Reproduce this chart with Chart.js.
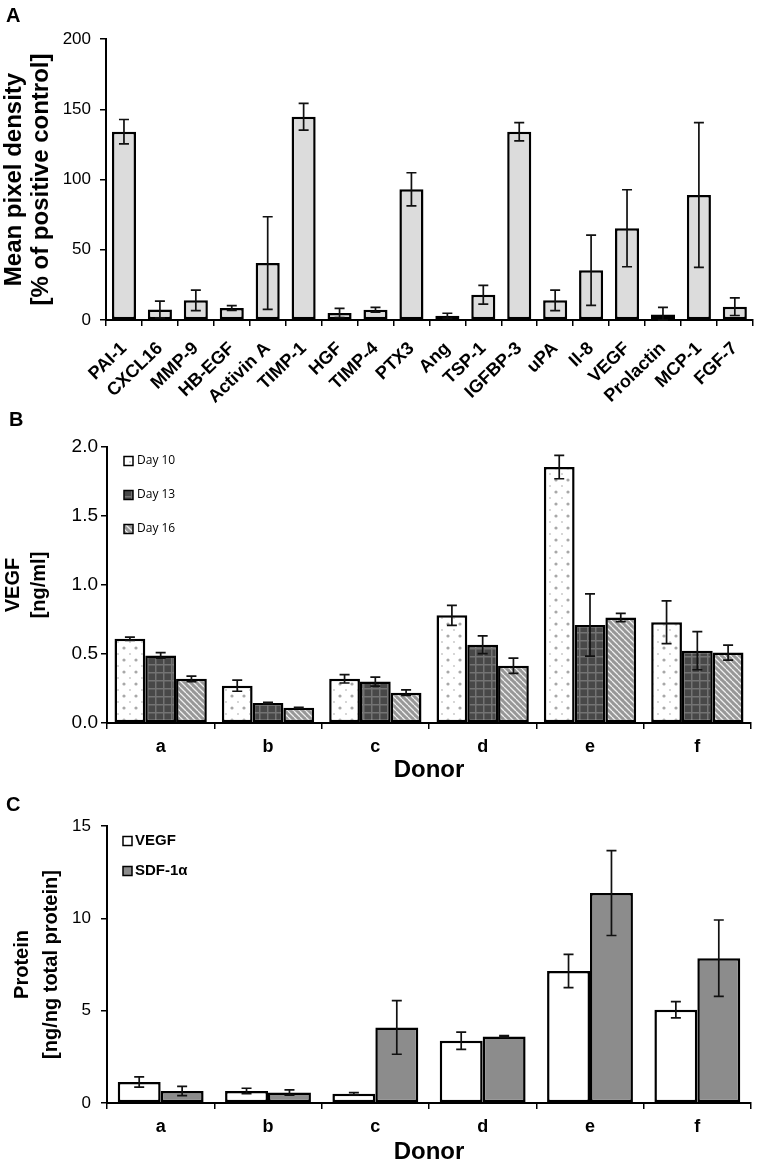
<!DOCTYPE html>
<html lang="en">
<head>
  <meta charset="UTF-8" />
  <title>Angiogenic factors in conditioned medium</title>
  <script src="https://cdn.jsdelivr.net/npm/chart.js"></script>
  <style>
    * {
      margin: 0;
      padding: 0;
      box-sizing: border-box;
    }

    body {
      background: #fff;
      width: 762px;
      height: 1171px;
      position: relative;
      overflow: hidden;
      font-family: 'Liberation Sans', Arial, sans-serif;
    }

    canvas {
      position: absolute;
      left: 0;
    }

    .panel-letter {
      position: absolute;
      font-weight: bold;
      font-size: 20px;
      line-height: 20px;
      color: #000;
      z-index: 2;
    }
  </style>
</head>
<body>

  <div class="panel-letter" style="left:6px; top:5px;">A</div>
  <div class="panel-letter" style="left:9px; top:409px;">B</div>
  <div class="panel-letter" style="left:6px; top:794px;">C</div>

  <canvas id="chartA" width="762" height="405" style="top:0;"></canvas>
  <canvas id="chartB" width="762" height="380" style="top:405px;"></canvas>
  <canvas id="chartC" width="762" height="386" style="top:785px;"></canvas>

  <script>
    // ---- data ----
    const factors = ['PAI-1', 'CXCL16', 'MMP-9', 'HB-EGF', 'Activin A', 'TIMP-1', 'HGF', 'TIMP-4', 'PTX3',
                     'Ang', 'TSP-1', 'IGFBP-3', 'uPA', 'Il-8', 'VEGF', 'Prolactin', 'MCP-1', 'FGF-7'];
    const densityMean = [134, 7.5, 14, 8.5, 40.5, 144.7, 5, 7.3, 93, 3, 18, 134, 14, 35.4, 65.3, 4, 89, 9.5];
    const densityErr = [8.7, 6, 7.3, 1.7, 33, 9.5, 3.3, 1.7, 11.8, 1.8, 6.7, 6.5, 7.3, 25, 27.4, 5, 51.5, 6.3];
    const ticksA = [0, 50, 100, 150, 200];

    const donors = ['a', 'b', 'c', 'd', 'e', 'f'];
    const day10 = [0.61, 0.27, 0.32, 0.78, 1.855, 0.73];
    const day10Err = [0.012, 0.04, 0.03, 0.072, 0.085, 0.155];
    const day13 = [0.49, 0.145, 0.30, 0.567, 0.71, 0.524];
    const day13Err = [0.02, 0.005, 0.033, 0.065, 0.225, 0.138];
    const day16 = [0.32, 0.11, 0.22, 0.415, 0.765, 0.51];
    const day16Err = [0.02, 0.003, 0.02, 0.055, 0.03, 0.055];
    const ticksB = [0, 0.5, 1.0, 1.5, 2.0];

    const vegfProtein = [1.14, 0.65, 0.5, 3.37, 7.15, 5.05];
    const vegfProteinErr = [0.28, 0.15, 0.06, 0.47, 0.9, 0.44];
    const sdfProtein = [0.65, 0.57, 4.09, 3.6, 11.37, 7.84];
    const sdfProteinErr = [0.25, 0.14, 1.45, 0.05, 2.3, 2.07];
    const ticksC = [0, 5, 10, 15];

    Chart.defaults.font.family = "'Liberation Sans', Arial, sans-serif";
    Chart.defaults.color = '#000';
    Chart.defaults.animation = false;

    // ---- fill patterns for panel B ----
    function makePattern(size, drawFn) {
      const c = document.createElement('canvas');
      c.width = size;
      c.height = size;
      drawFn(c.getContext('2d'), size);
      return c.getContext('2d').createPattern(c, 'repeat');
    }

    const dotsPattern = makePattern(12, (g, s) => {
      g.fillStyle = '#fff';
      g.fillRect(0, 0, s, s);
      g.fillStyle = '#a8a8a8';
      g.beginPath(); g.arc(4, 3, 1.6, 0, Math.PI * 2); g.fill();
      g.fillStyle = '#c4c4c4';
      g.beginPath(); g.arc(10, 9, 0.9, 0, Math.PI * 2); g.fill();
    });

    const plaidPattern = makePattern(8, (g, s) => {
      g.fillStyle = '#484848';
      g.fillRect(0, 0, s, s);
      g.fillStyle = '#737373';
      g.fillRect(3, 0, 1.5, s);
      g.fillRect(0, 3, s, 1.5);
    });

    const stripePattern = makePattern(6, (g, s) => {
      g.fillStyle = '#979797';
      g.fillRect(0, 0, s, s);
      g.strokeStyle = 'rgba(255,255,255,0.85)';
      g.lineWidth = 1.3;
      g.beginPath();
      [-s, 0, s].forEach(k => { g.moveTo(k, 0); g.lineTo(k + s, s); });
      g.stroke();
    });

    // ---- plugins ----
    const errorBars = {
      id: 'errorBars',
      afterDatasetsDraw(chart, args, opts) {
        const ctx = chart.ctx;
        const y = chart.scales.y;
        chart.data.datasets.forEach((ds, i) => {
          if (!ds.errors) return;
          chart.getDatasetMeta(i).data.forEach((bar, j) => {
            const v = ds.data[j], e = ds.errors[j];
            const top = y.getPixelForValue(v + e);
            const bot = y.getPixelForValue(Math.max(v - e, y.min));
            const cap = opts.cap || 5;
            ctx.save();
            ctx.strokeStyle = '#111';
            ctx.lineWidth = 1.7;
            ctx.beginPath();
            ctx.moveTo(bar.x, top); ctx.lineTo(bar.x, bot);
            ctx.moveTo(bar.x - cap, top); ctx.lineTo(bar.x + cap, top);
            ctx.moveTo(bar.x - cap, bot); ctx.lineTo(bar.x + cap, bot);
            ctx.stroke();
            ctx.restore();
          });
        });
      }
    };

    // small square legend drawn inside the plot
    const boxLegend = {
      id: 'boxLegend',
      afterDraw(chart, args, opts) {
        if (!opts.rows) return;
        const ctx = chart.ctx;
        chart.data.datasets.forEach((ds, i) => {
          const cy = opts.rows[i];
          const b = opts.box;
          ctx.save();
          ctx.fillStyle = ds.backgroundColor;
          ctx.fillRect(opts.x, cy - b / 2, b, b);
          ctx.strokeStyle = '#000';
          ctx.lineWidth = 1.5;
          ctx.strokeRect(opts.x, cy - b / 2, b, b);
          ctx.fillStyle = '#000';
          ctx.font = opts.font;
          ctx.textBaseline = 'middle';
          ctx.fillText(ds.label, opts.x + b + opts.gap, cy);
          ctx.restore();
        });
      }
    };

    function yScale(tickValues, width, title, fmt) {
      return {
        min: tickValues[0],
        max: tickValues[tickValues.length - 1],
        afterBuildTicks: s => { s.ticks = tickValues.map(v => ({ value: v })); },
        afterFit: s => { s.width = width; },
        border: { display: true, color: '#000', width: 2 },
        grid: { drawOnChartArea: false, drawTicks: true, tickLength: 6, color: '#000', lineWidth: 1.5 },
        ticks: {
          font: { size: title.tickSize },
          padding: title.tickPad,
          color: '#000',
          callback: fmt
        },
        title: {
          display: true,
          text: title.text,
          font: { size: title.size, weight: 'bold', lineHeight: title.lineHeight },
          padding: { top: title.pad, bottom: 0 },
          color: '#000'
        }
      };
    }

    function xScale(height, labelFont, rotation, pad, title) {
      const cfg = {
        offset: true,
        afterFit: s => { s.height = height; },
        border: { display: true, color: '#000', width: 2 },
        grid: { offset: true, drawOnChartArea: false, drawTicks: true, tickLength: 6, color: '#000', lineWidth: 1.5 },
        ticks: {
          autoSkip: false,
          maxRotation: rotation,
          minRotation: rotation,
          padding: pad,
          color: '#000',
          font: { size: labelFont, weight: 'bold' }
        }
      };
      if (title) {
        cfg.title = {
          display: true,
          text: title.text,
          font: { size: title.size, weight: 'bold', lineHeight: 1.2 },
          padding: { top: 0, bottom: title.pad },
          color: '#000'
        };
      }
      return cfg;
    }

    // ---- Panel A ----
    new Chart(document.getElementById('chartA'), {
      type: 'bar',
      data: {
        labels: factors,
        datasets: [{
          label: 'Mean pixel density',
          data: densityMean,
          errors: densityErr,
          backgroundColor: '#dcdcdc',
          borderColor: '#000',
          borderWidth: 2.5,
          borderSkipped: false,
          categoryPercentage: 1,
          barPercentage: 0.67
        }]
      },
      options: {
        responsive: false,
        devicePixelRatio: 1,
        layout: { padding: { top: 39, right: 6, left: 0, bottom: 0 } },
        plugins: { legend: { display: false }, tooltip: { enabled: false }, errorBars: { cap: 5 } },
        scales: {
          x: xScale(85, 18, 44, 12, null),
          y: yScale(ticksA, 106,
            { text: ['Mean pixel density', '[% of positive control]'], size: 24, lineHeight: 1.13, pad: 1, tickSize: 17, tickPad: 9 },
            v => v)
        }
      },
      plugins: [errorBars]
    });

    // ---- Panel B ----
    new Chart(document.getElementById('chartB'), {
      type: 'bar',
      data: {
        labels: donors,
        datasets: [
          { label: 'Day 10', data: day10, errors: day10Err, backgroundColor: dotsPattern },
          { label: 'Day 13', data: day13, errors: day13Err, backgroundColor: plaidPattern },
          { label: 'Day 16', data: day16, errors: day16Err, backgroundColor: stripePattern }
        ].map(d => Object.assign(d, {
          borderColor: '#000', borderWidth: 2.5, borderSkipped: false,
          categoryPercentage: 0.86, barPercentage: 1
        }))
      },
      options: {
        responsive: false,
        devicePixelRatio: 1,
        layout: { padding: { top: 42, right: 11, left: 0, bottom: 0 } },
        plugins: {
          legend: { display: false },
          tooltip: { enabled: false },
          errorBars: { cap: 5 },
          boxLegend: { x: 124, rows: [56, 90, 124], box: 9, gap: 4, font: "12px 'Open Sans', sans-serif" }
        },
        scales: {
          x: xScale(62, 18, 0, 7, { text: 'Donor', size: 24, pad: 0 }),
          y: yScale(ticksB, 107,
            { text: ['VEGF', '[ng/ml]'], size: 20, lineHeight: 1.3, pad: 0, tickSize: 19, tickPad: 3 },
            v => v.toFixed(1))
        }
      },
      plugins: [errorBars, boxLegend]
    });

    // ---- Panel C ----
    new Chart(document.getElementById('chartC'), {
      type: 'bar',
      data: {
        labels: donors,
        datasets: [
          { label: 'VEGF', data: vegfProtein, errors: vegfProteinErr, backgroundColor: '#ffffff' },
          { label: 'SDF-1\u03b1', data: sdfProtein, errors: sdfProteinErr, backgroundColor: '#8c8c8c' }
        ].map(d => Object.assign(d, {
          borderColor: '#000', borderWidth: 2.5, borderSkipped: false,
          categoryPercentage: 0.80, barPercentage: 1
        }))
      },
      options: {
        responsive: false,
        devicePixelRatio: 1,
        layout: { padding: { top: 41, right: 11, left: 0, bottom: 0 } },
        plugins: {
          legend: { display: false },
          tooltip: { enabled: false },
          errorBars: { cap: 5 },
          boxLegend: { x: 123, rows: [56, 86], box: 9, gap: 3, font: "bold 15px 'Liberation Sans', Arial, sans-serif" }
        },
        scales: {
          x: xScale(68, 18, 0, 7, { text: 'Donor', size: 24, pad: 4 }),
          y: yScale(ticksC, 107,
            { text: ['Protein', '[ng/ng total protein]'], size: 20, lineHeight: 1.45, pad: 8, tickSize: 17, tickPad: 10 },
            v => v)
        }
      },
      plugins: [errorBars, boxLegend]
    });
  </script>
</body>
</html>
